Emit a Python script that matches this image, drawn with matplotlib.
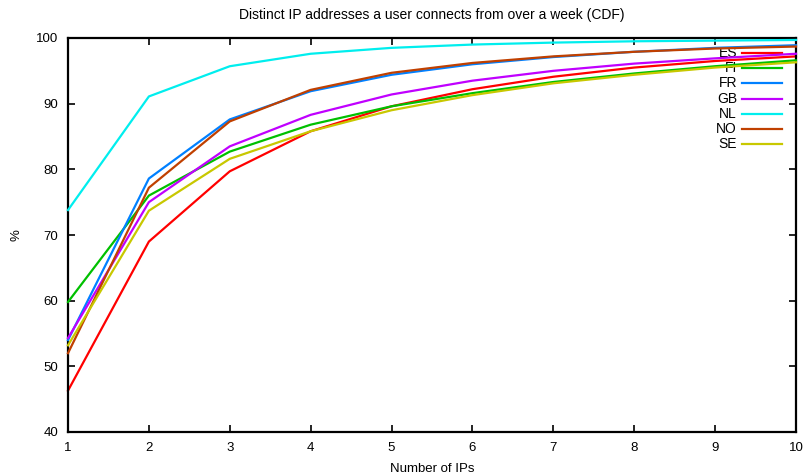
import numpy as np
import matplotlib.pyplot as plt

plt.rcParams['font.family'] = ['Liberation Sans', 'DejaVu Sans']
plt.rcParams['font.size'] = 9.5

# number of distinct IPs and cumulative share of users (%)
ips = [1, 2, 3, 4, 5, 6, 7, 8, 9, 10]
countries = ['ES', 'FI', 'FR', 'GB', 'NL', 'NO', 'SE']
es = [46.3, 69.0, 79.7, 85.8, 89.6, 92.2, 94.1, 95.5, 96.5, 97.2]
fi = [59.8, 76.0, 82.7, 86.8, 89.6, 91.6, 93.3, 94.6, 95.7, 96.6]
fr = [54.0, 78.6, 87.6, 91.9, 94.4, 96.0, 97.1, 97.9, 98.5, 98.9]
gb = [54.3, 75.0, 83.5, 88.3, 91.4, 93.5, 95.0, 96.1, 96.9, 97.6]
nl = [73.8, 91.1, 95.7, 97.6, 98.5, 99.0, 99.3, 99.5, 99.6, 99.7]
no = [52.0, 77.2, 87.3, 92.1, 94.7, 96.2, 97.2, 97.9, 98.4, 98.7]
se = [53.2, 73.7, 81.6, 85.8, 89.0, 91.3, 93.1, 94.4, 95.5, 96.3]
series = [es, fi, fr, gb, nl, no, se]
colors = ['#ff0000', '#00c000', '#0080ff', '#c000ff', '#00eeee', '#c04000', '#c8c800']

fig = plt.figure(figsize=(8.08, 4.75), dpi=100)
ax = fig.add_axes([68/808, 43/475, 728/808, 394/475])

for i, (name, vals, c) in enumerate(zip(countries, series, colors)):
    # gnuplot-style key: label right-aligned, sample line after it
    ky = 0.962 - i * 0.0386
    ax.text(0.919, ky, name, transform=ax.transAxes, ha='right', va='center',
            fontsize=10, zorder=1 + 2*i)
    ax.plot([0.926, 0.981], [ky, ky], color=c, lw=1.6, transform=ax.transAxes,
            zorder=1 + 2*i)
    ax.plot(ips, vals, color=c, lw=1.6, zorder=2 + 2*i, clip_on=False)

ax.set_xlim(1, 10)
ax.set_ylim(40, 100)
ax.set_xticks(ips)
ax.set_yticks(np.arange(40, 101, 10))
ax.tick_params(direction='in', length=5, width=1.2, top=True, right=True, pad=7)
for s in ax.spines.values():
    s.set_linewidth(1.6)

ax.set_title('Distinct IP addresses a user connects from over a week (CDF)',
             fontsize=10, pad=14)
ax.set_xlabel('Number of IPs', labelpad=7)
ax.set_ylabel('%', labelpad=10)

fig.savefig('out.png', dpi=100)
